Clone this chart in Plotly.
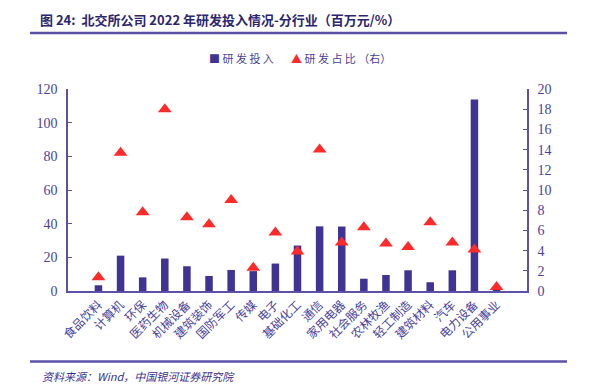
import plotly.graph_objects as go

categories = ["食品饮料", "计算机", "环保", "医药生物", "机械设备", "建筑装饰", "国防军工", "传媒",
              "电子", "基础化工", "通信", "家用电器", "社会服务", "农林牧渔", "轻工制造", "建筑材料",
              "汽车", "电力设备", "公用事业"]
rd_invest = [3.4, 21.0, 8.1, 19.3, 14.7, 8.9, 12.5, 11.8, 16.3, 27.0, 38.4, 38.3, 7.3, 9.5, 12.3, 5.2,
             12.3, 113.7, 0.2]
rd_ratio = [1.35, 13.7, 7.8, 18.0, 7.3, 6.6, 9.0, 2.3, 5.8, 3.9, 14.0, 4.8, 6.3, 4.7, 4.35, 6.8, 4.8,
            4.1, 0.4]
left_ticks = [0, 20, 40, 60, 80, 100, 120]
right_ticks = [0, 2, 4, 6, 8, 10, 12, 14, 16, 18, 20]

axis_color = "#5B52A8"
text_color = "#4A3F9E"
bar_color = "#3F3393"
tri_color = "#FF2A2A"
cjk = "Noto Sans CJK SC"
serif = "Liberation Serif"

# decorative separator rules (page fractions), drawn on a full-page helper axis
rule_x = [0.0377, 0.9572]
rule_top_y = 0.9347
rule_bottom_y = 0.0770

fig = go.Figure()
fig.add_trace(go.Bar(x=categories, y=rd_invest, name="研发投入", marker_color=bar_color,
                     marker_line_width=0, yaxis="y"))
fig.add_trace(go.Scatter(x=categories, y=rd_ratio, name="研发占比（右）", mode="markers",
                         marker=dict(symbol="triangle-up", size=12, color=tri_color), yaxis="y2"))
for ry in (rule_top_y, rule_bottom_y):
    fig.add_trace(go.Scatter(x=rule_x, y=[ry, ry], mode="lines", xaxis="x3", yaxis="y3",
                             line=dict(color=axis_color, width=2.5), hoverinfo="skip",
                             showlegend=False))

# page body has an 8px default margin, so the figure is 584x383 and offset by 8px
xdom = [0.10274, 0.88870]
ydom = [0.26110, 0.78851]
fig.update_layout(
    width=584, height=383,
    margin=dict(l=0, r=0, t=0, b=0),
    paper_bgcolor="white", plot_bgcolor="rgba(0,0,0,0)",
    bargap=0.66,
    showlegend=False,
    xaxis=dict(domain=xdom, tickangle=-45, tickfont=dict(family=cjk, size=12, color=text_color),
               automargin=False, showline=True, linecolor=axis_color, linewidth=2, ticks="",
               showgrid=False),
    yaxis=dict(domain=ydom, range=[0, 120], tickvals=left_ticks, showline=True, linecolor=axis_color,
               linewidth=1.5, ticks="inside", ticklen=4, tickcolor=axis_color, showgrid=False,
               zeroline=False, automargin=False, ticklabelstandoff=6,
               tickfont=dict(family=serif, size=14, color=text_color)),
    yaxis2=dict(range=[0, 20], tickvals=right_ticks, overlaying="y", side="right", showline=True,
                linecolor=axis_color, linewidth=1.5, ticks="inside", ticklen=4, tickcolor=axis_color,
                showgrid=False, zeroline=False, automargin=False, ticklabelstandoff=6,
                tickfont=dict(family=serif, size=14, color=text_color)),
    xaxis3=dict(domain=[0, 1], range=[0, 1], anchor="y3", visible=False, fixedrange=True),
    yaxis3=dict(domain=[0, 1], range=[0, 1], anchor="x3", visible=False, fixedrange=True),
    annotations=[
        dict(text="<b>图 24:  北交所公司 2022 年研发投入情况-分行业（百万元/%）</b>", xref="paper", yref="paper",
             x=0.0514, y=0.9687, xanchor="left", yanchor="middle", showarrow=False,
             font=dict(family=cjk, size=13, color="#2B2670")),
        dict(text="<i>资料来源：Wind，中国银河证券研究院</i>", xref="paper", yref="paper",
             x=0.0548, y=0.0392, xanchor="left", yanchor="middle", showarrow=False,
             font=dict(family=cjk, size=11, color="#3A3290")),
        dict(text=f"<span style='color:{bar_color}'>■</span> 研 发 投 入", xref="paper", yref="paper",
             x=0.3408, y=0.8695, xanchor="left", yanchor="middle", showarrow=False,
             font=dict(family=cjk, size=11, color=text_color)),
        dict(text=f"<span style='color:{tri_color}'>▲</span> 研 发 占 比 （右）", xref="paper", yref="paper",
             x=0.4812, y=0.8695, xanchor="left", yanchor="middle", showarrow=False,
             font=dict(family=cjk, size=11, color=text_color)),
    ],
)

fig.write_html("out.html")
